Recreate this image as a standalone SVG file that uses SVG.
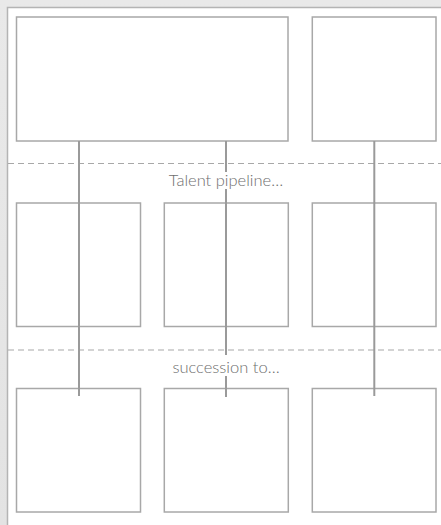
<svg xmlns="http://www.w3.org/2000/svg" width="441" height="525" viewBox="0 0 441 525">
  <style>
    .box { fill: #ffffff; stroke: #a8a8a8; stroke-width: 1.5; }
    .sep { stroke: #a8a8a8; stroke-width: 1.2; stroke-dasharray: 6 4; fill: none; }
    .conn { stroke: #9a9a9a; stroke-width: 2; fill: none; }
    .lbl { font-family: "Lato", "Open Sans", "Liberation Sans", sans-serif; font-weight: 300; font-size: 16.5px; fill: #6e6e6e; text-anchor: middle; }
    .lblbg { fill: #ffffff; }
  </style>
  <defs>
    <linearGradient id="bg" x1="0" y1="0" x2="0" y2="1">
      <stop offset="0" stop-color="#e9e9e9"/>
      <stop offset="1" stop-color="#e3e3e3"/>
    </linearGradient>
  </defs>
  <rect x="0" y="0" width="441" height="525" fill="url(#bg)"/>
  <rect x="7.5" y="7.5" width="450" height="540" fill="#ffffff" stroke="#b4b4b4" stroke-width="1.5"/>

  <g id="separators">
    <line class="sep" x1="8" y1="163.5" x2="441" y2="163.5"/>
    <line class="sep" x1="8" y1="350" x2="441" y2="350"/>
  </g>

  <g id="top-left"><rect class="box" x="16.5" y="17" width="271.5" height="124"/></g>
  <g id="top-right"><rect class="box" x="312.3" y="17" width="123.7" height="124"/></g>
  <g id="mid-left"><rect class="box" x="16.5" y="203" width="124" height="123.5"/></g>
  <g id="mid-center"><rect class="box" x="164.3" y="203" width="124" height="123.5"/></g>
  <g id="mid-right"><rect class="box" x="312.3" y="203" width="123.7" height="123.5"/></g>
  <g id="bot-left"><rect class="box" x="16.5" y="388.5" width="124" height="123.5"/></g>
  <g id="bot-center"><rect class="box" x="164.3" y="388.5" width="124" height="123.5"/></g>
  <g id="bot-right"><rect class="box" x="312.3" y="388.5" width="123.7" height="123.5"/></g>

  <g id="connectors">
    <line class="conn" x1="79" y1="141" x2="79" y2="396"/>
    <line class="conn" x1="226" y1="141" x2="226" y2="397"/>
    <line class="conn" x1="374.3" y1="141" x2="374.3" y2="396"/>
  </g>

  <g id="label-talent">
    <rect class="lblbg" x="166" y="172" width="120" height="17"/>
    <text class="lbl" x="226" y="186">Talent pipeline…</text>
  </g>
  <g id="label-succession">
    <rect class="lblbg" x="168" y="355" width="116" height="21"/>
    <text class="lbl" x="226" y="373">succession to…</text>
  </g>
</svg>
